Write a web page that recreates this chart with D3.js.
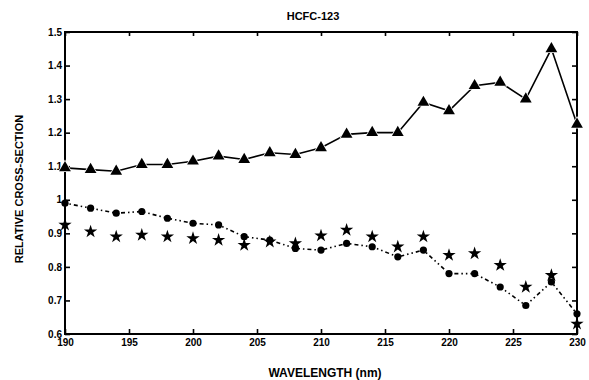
<!DOCTYPE html>
<html><head><meta charset="utf-8">
<script src="https://cdn.jsdelivr.net/npm/d3@7"></script>
<style>body{margin:0;background:#fff}svg{display:block}</style>
</head><body><svg id="c" width="589" height="380"></svg>
<script>
const wavelengths = [190,192,194,196,198,200,202,204,206,208,210,212,214,216,218,220,222,224,226,228,230];
const triangleSeries = [1.095,1.09,1.085,1.105,1.105,1.115,1.13,1.12,1.14,1.135,1.155,1.195,1.20,1.20,1.29,1.265,1.34,1.35,1.30,1.45,1.225];
const circleSeries = [0.99,0.975,0.96,0.965,0.945,0.93,0.925,0.89,0.88,0.855,0.85,0.87,0.86,0.83,0.85,0.78,0.78,0.74,0.685,0.755,0.66];
const starSeries = [0.925,0.905,0.89,0.895,0.89,0.885,0.88,0.865,0.875,0.87,0.893,0.91,0.89,0.86,0.89,0.835,0.84,0.805,0.74,0.775,0.63];
const xTicks = [190,195,200,205,210,215,220,225,230];
const yTicks = [0.6,0.7,0.8,0.9,1,1.1,1.2,1.3,1.4,1.5];
const yTickLabels = ["0.6","0.7","0.8","0.9","1","1.1","1.2","1.3","1.4","1.5"];

const svg = d3.select("#c");
const L=65, R=577, T=32, B=334;
const x = d3.scaleLinear().domain([190,230]).range([L,R]);
const y = d3.scaleLinear().domain([0.6,1.5]).range([B,T]);
const font = "'Liberation Sans', Arial, sans-serif";

svg.append("rect").attr("x",L).attr("y",T).attr("width",R-L).attr("height",B-T)
  .attr("fill","none").attr("stroke","#000").attr("stroke-width",2);

const yAxisL = d3.axisLeft(y).tickValues(yTicks).tickSize(-5).tickPadding(4)
  .tickFormat((d,i)=>yTickLabels[i]);
const gL = svg.append("g").attr("transform",`translate(${L},0)`).call(yAxisL);
const gR = svg.append("g").attr("transform",`translate(${R},0)`)
  .call(d3.axisRight(y).tickValues(yTicks).tickSize(-5).tickFormat(""));
const gB = svg.append("g").attr("transform",`translate(0,${B})`)
  .call(d3.axisBottom(x).tickValues(xTicks).tickSize(-5).tickPadding(5).tickFormat(d3.format("d")));
const gT = svg.append("g").attr("transform",`translate(0,${T})`)
  .call(d3.axisTop(x).tickValues(xTicks).tickSize(-4).tickFormat(""));
[gL,gR,gB,gT].forEach(g=>{
  g.select(".domain").remove();
  g.selectAll("line").attr("stroke","#000").attr("stroke-width",1.6);
  g.selectAll("text").attr("font-family",font).attr("font-weight","bold")
    .attr("font-size",10).attr("fill","#000");
});
gL.selectAll("text").attr("dx",1);

svg.append("path").datum(wavelengths.map((w,i)=>[w,triangleSeries[i]]))
  .attr("d",d3.line().x(d=>x(d[0])).y(d=>y(d[1])))
  .attr("fill","none").attr("stroke","#000").attr("stroke-width",1.6);
svg.append("path").datum(wavelengths.map((w,i)=>[w,circleSeries[i]]))
  .attr("d",d3.line().x(d=>x(d[0])).y(d=>y(d[1])))
  .attr("fill","none").attr("stroke","#000").attr("stroke-width",1.6)
  .attr("stroke-dasharray","1.5,3,1.5,3,4,3");

svg.append("g").selectAll("path").data(wavelengths.map((w,i)=>[w,triangleSeries[i]])).join("path")
  .attr("transform",d=>`translate(${x(d[0])},${y(d[1])})`)
  .attr("d",d3.symbol(d3.symbolTriangle,60)())
  .attr("fill","#000").attr("stroke","#fff").attr("stroke-width",1.5).attr("paint-order","stroke");
svg.append("g").selectAll("circle").data(wavelengths.map((w,i)=>[w,circleSeries[i]])).join("circle")
  .attr("cx",d=>x(d[0])).attr("cy",d=>y(d[1])).attr("r",3.6).attr("fill","#000");
svg.append("g").selectAll("path").data(wavelengths.map((w,i)=>[w,starSeries[i]])).join("path")
  .attr("transform",d=>`translate(${x(d[0])},${y(d[1])})`)
  .attr("d",d3.symbol(d3.symbolStar,55)())
  .attr("fill","#000");

svg.append("text").attr("x",313).attr("y",20).attr("text-anchor","middle")
  .attr("font-family",font).attr("font-weight","bold").attr("font-size",11).text("HCFC-123");
svg.append("text").attr("transform","translate(23,189) rotate(-90)").attr("text-anchor","middle")
  .attr("font-family",font).attr("font-weight","bold").attr("font-size",11).text("RELATIVE CROSS-SECTION");
svg.append("text").attr("x",325).attr("y",377).attr("text-anchor","middle")
  .attr("font-family",font).attr("font-weight","bold").attr("font-size",12).text("WAVELENGTH (nm)");
</script></body></html>
